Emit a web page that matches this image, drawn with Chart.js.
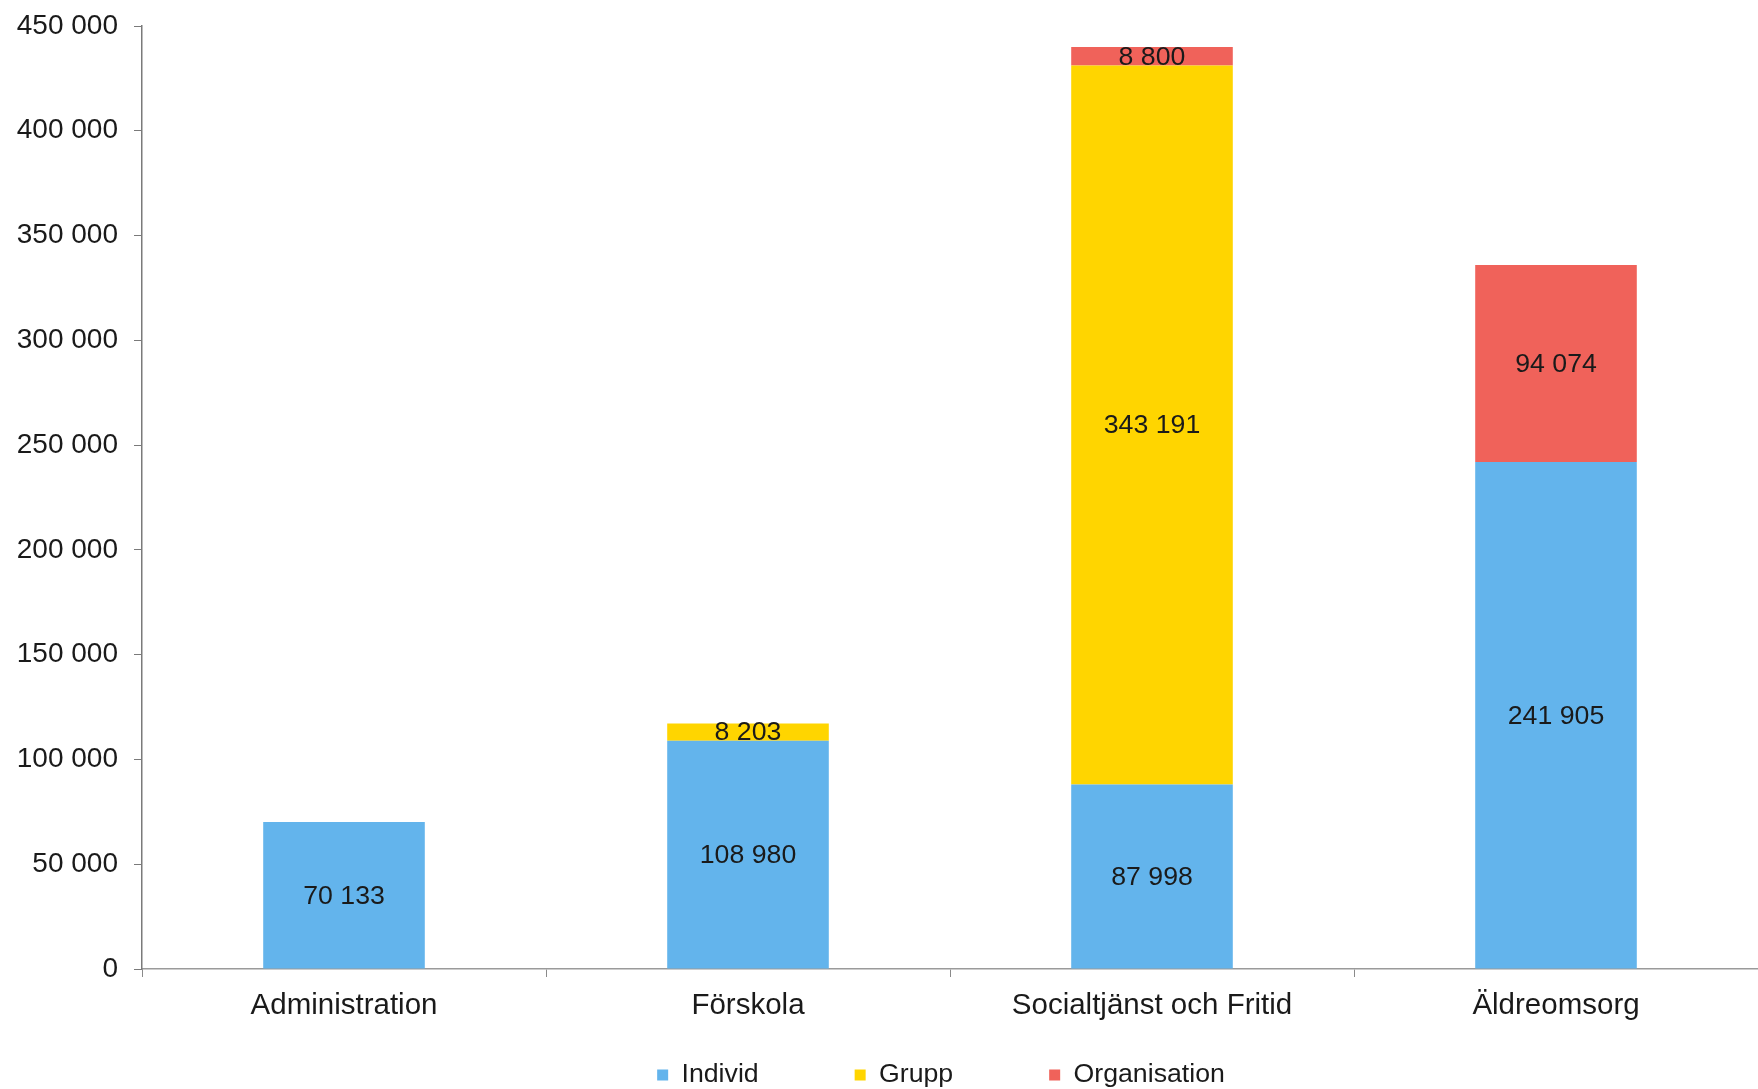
<!DOCTYPE html>
<html><head><meta charset="utf-8">
<script src="https://cdn.jsdelivr.net/npm/chart.js@4/dist/chart.umd.min.js"></script>
<style>html,body{margin:0;padding:0;background:#fff;}canvas{display:block;}</style>
</head><body>
<canvas id="c" width="1758" height="1089"></canvas>
<script>
const categories = ['Administration', 'Förskola', 'Socialtjänst och Fritid', 'Äldreomsorg'];
const seriesNames = ['Individ', 'Grupp', 'Organisation'];
const individ = [70133, 108980, 87998, 241905];
const grupp = [null, 8203, 343191, null];
const organisation = [null, null, 8800, 94074];
const yMin = 0, yMax = 450000, yStep = 50000;

const colors = ['#63b4ec', '#ffd500', '#f0625a'];
const FONT = "'Liberation Sans', Arial, sans-serif";
const fmt = v => String(Math.round(v)).replace(/\B(?=(\d{3})+(?!\d))/g, ' ');

const barLabels = {
  id: 'barLabels',
  afterDatasetsDraw(chart) {
    const ctx = chart.ctx;
    ctx.save();
    ctx.font = '26.7px ' + FONT;
    ctx.fillStyle = '#1a1a1a';
    ctx.textAlign = 'center';
    ctx.textBaseline = 'middle';
    chart.data.datasets.forEach((ds, i) => {
      const meta = chart.getDatasetMeta(i);
      meta.data.forEach((bar, j) => {
        const v = ds.data[j];
        if (v == null || v === 0) return;
        ctx.fillText(fmt(v), bar.x, (bar.y + bar.base) / 2 + 1);
      });
    });
    ctx.restore();
  }
};

const legendPlace = {
  id: 'legendPlace',
  afterLayout(chart) {
    const lg = chart.legend;
    if (!lg) return;
    lg.left += 62; lg.right += 62;
    lg.top = 1075 - 96 - 13.35; lg.bottom = 1089;
  }
};

new Chart(document.getElementById('c'), {
  type: 'bar',
  data: {
    labels: categories,
    datasets: [
      { label: seriesNames[0], data: individ, backgroundColor: colors[0] },
      { label: seriesNames[1], data: grupp, backgroundColor: colors[1] },
      { label: seriesNames[2], data: organisation, backgroundColor: colors[2] }
    ]
  },
  options: {
    responsive: false,
    animation: false,
    layout: { padding: { top: 26, right: 0, bottom: 0, left: 0 } },
    datasets: { bar: { barPercentage: 0.4, categoryPercentage: 1.0, borderWidth: 0 } },
    scales: {
      x: {
        stacked: true,
        afterFit(s) { s.height = 80; s.paddingLeft = 0; s.paddingRight = 0; },
        grid: { drawOnChartArea: false, tickLength: 8, color: '#8a8a8a', offset: true },
        border: { color: '#9a9a9a', width: 1.5 },
        ticks: { font: { family: FONT, size: 29.5 }, color: '#1a1a1a', padding: 11, maxRotation: 0 }
      },
      y: {
        stacked: true,
        min: yMin, max: yMax,
        afterFit(s) { s.width = 142; s.paddingTop = 0; s.paddingBottom = 0; },
        grid: { drawOnChartArea: false, tickLength: 8, color: '#7a7a7a' },
        border: { color: '#7a7a7a', width: 1.5 },
        ticks: { stepSize: yStep, font: { family: FONT, size: 28 }, color: '#1a1a1a', padding: 16,
          callback: v => fmt(v) }
      }
    },
    plugins: {
      legend: {
        position: 'bottom',
        maxHeight: 40,
        labels: { boxWidth: 11, boxHeight: 11, padding: 96, color: '#1a1a1a', font: { family: FONT, size: 26.7 } }
      },
      tooltip: { enabled: false }
    }
  },
  plugins: [barLabels, legendPlace]
});
</script>
</body></html>
